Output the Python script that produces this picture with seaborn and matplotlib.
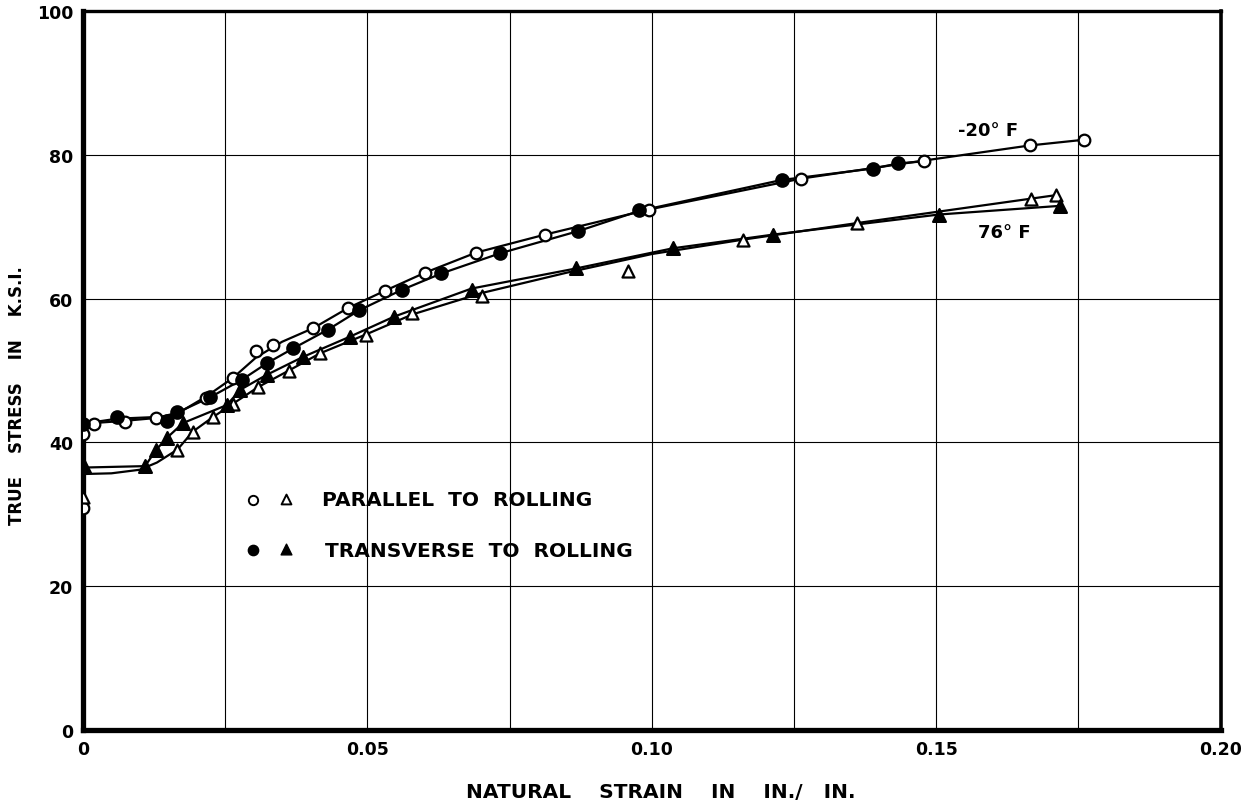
import matplotlib
matplotlib.use("Agg")
import matplotlib.pyplot as plt
import numpy as np
import pandas as pd
import seaborn as sns

# ---------------- data ----------------
# -20 F, parallel to rolling (open circles)
p20_x = [0.0, 0.0, 0.0020, 0.0073, 0.0129, 0.0217, 0.0264, 0.0304, 0.0334, 0.0405,
         0.0466, 0.0531, 0.0601, 0.0691, 0.0812, 0.0995, 0.1263, 0.1478, 0.1664, 0.1760]
p20_y = [30.9, 41.2, 42.6, 42.9, 43.4, 46.2, 49.0, 52.7, 53.6, 55.9,
         58.7, 61.1, 63.6, 66.4, 68.9, 72.3, 76.6, 79.1, 81.3, 82.1]
# -20 F, transverse to rolling (filled circles)
t20_x = [0.0, 0.0060, 0.0147, 0.0166, 0.0224, 0.0279, 0.0323, 0.0370, 0.0431, 0.0486,
         0.0560, 0.0630, 0.0733, 0.0871, 0.0978, 0.1228, 0.1389, 0.1433]
t20_y = [42.6, 43.6, 43.0, 44.2, 46.3, 48.7, 51.0, 53.1, 55.7, 58.4,
         61.2, 63.5, 66.4, 69.4, 72.3, 76.5, 78.0, 78.8]
# 76 F, parallel to rolling (open triangles)
p76_x = [0.0, 0.0166, 0.0193, 0.0228, 0.0264, 0.0308, 0.0362, 0.0417, 0.0497, 0.0579,
         0.0702, 0.0958, 0.1160, 0.1360, 0.1666, 0.1711]
p76_y = [32.4, 39.0, 41.5, 43.5, 45.4, 47.7, 50.0, 52.4, 55.0, 58.0,
         60.3, 63.8, 68.2, 70.5, 73.9, 74.4]
# 76 F, transverse to rolling (filled triangles)
t76_x = [0.0002, 0.0109, 0.0129, 0.0147, 0.0176, 0.0253, 0.0276, 0.0323, 0.0387, 0.0469,
         0.0547, 0.0683, 0.0867, 0.1037, 0.1213, 0.1505, 0.1717]
t76_y = [36.7, 36.7, 39.0, 40.6, 42.7, 45.2, 47.3, 49.4, 51.9, 54.7,
         57.5, 61.2, 64.2, 67.0, 68.9, 71.7, 72.9]

# faired curves drawn through the points
c_p20_x = [0.0, 0.0, 0.0020, 0.0073, 0.0129, 0.0170, 0.0217, 0.0264, 0.0304, 0.0350,
           0.0405, 0.0466, 0.0531, 0.0601, 0.0691, 0.0812, 0.0995, 0.1263, 0.1478, 0.1664, 0.1760]
c_p20_y = [0.0, 42.4, 42.7, 43.0, 43.4, 44.2, 46.4, 49.0, 51.8, 54.0,
           55.9, 58.7, 61.1, 63.6, 66.4, 68.9, 72.4, 76.7, 79.2, 81.3, 82.1]
c_t20_x = [0.0, 0.0, 0.0060, 0.0150, 0.0170, 0.0224, 0.0279, 0.0323, 0.0370, 0.0431,
           0.0486, 0.0560, 0.0630, 0.0733, 0.0871, 0.0978, 0.1228, 0.1389, 0.1433, 0.1478]
c_t20_y = [0.0, 42.6, 43.3, 43.6, 44.3, 46.3, 48.7, 51.0, 53.1, 55.7,
           58.4, 61.2, 63.5, 66.3, 69.4, 72.2, 76.5, 78.1, 78.8, 79.1]
c_p76_x = [0.0, 0.0, 0.0050, 0.0100, 0.0130, 0.0166, 0.0193, 0.0228, 0.0264, 0.0308,
           0.0362, 0.0417, 0.0497, 0.0579, 0.0702, 0.0850, 0.1000, 0.1160, 0.1360, 0.1666, 0.1711]
c_p76_y = [0.0, 35.6, 35.7, 36.2, 37.2, 39.0, 41.5, 43.5, 45.4, 47.7,
           50.0, 52.4, 55.0, 57.8, 60.8, 63.6, 66.2, 68.2, 70.5, 73.9, 74.4]
c_t76_x = [0.0, 0.0, 0.0109, 0.0129, 0.0147, 0.0176, 0.0253, 0.0276, 0.0323, 0.0387,
           0.0469, 0.0547, 0.0683, 0.0867, 0.1037, 0.1213, 0.1505, 0.1717]
c_t76_y = [0.0, 36.5, 36.7, 39.0, 40.6, 42.7, 45.2, 47.3, 49.4, 51.9,
           54.7, 57.5, 61.4, 64.2, 67.0, 68.9, 71.7, 72.9]

x_ticks = [0.0, 0.05, 0.10, 0.15, 0.20]
x_tick_labels = ["0", "0.05", "0.10", "0.15", "0.20"]
y_ticks = [0, 20, 40, 60, 80, 100]
y_tick_labels = ["0", "20", "40", "60", "80", "100"]

# ---------------- build tables ----------------
pts = pd.concat([
    pd.DataFrame({"x": p20_x, "y": p20_y, "s": "p20"}),
    pd.DataFrame({"x": t20_x, "y": t20_y, "s": "t20"}),
    pd.DataFrame({"x": p76_x, "y": p76_y, "s": "p76"}),
    pd.DataFrame({"x": t76_x, "y": t76_y, "s": "t76"}),
], ignore_index=True)
curves = pd.concat([
    pd.DataFrame({"x": c_p20_x, "y": c_p20_y, "c": "p20"}),
    pd.DataFrame({"x": c_t20_x, "y": c_t20_y, "c": "t20"}),
    pd.DataFrame({"x": c_p76_x, "y": c_p76_y, "c": "p76"}),
    pd.DataFrame({"x": c_t76_x, "y": c_t76_y, "c": "t76"}),
], ignore_index=True)

sns.set_theme(style="white")
plt.rcParams["font.family"] = ["DejaVu Sans"]
plt.rcParams["text.color"] = "black"
plt.rcParams["axes.labelcolor"] = "black"
plt.rcParams["xtick.color"] = "black"
plt.rcParams["ytick.color"] = "black"

fig = plt.figure(figsize=(12.52, 8.03), dpi=100)
ax = fig.add_axes([0.0663, 0.0897, 0.9087, 0.8953])

# grid
ax.set_xlim(0, 0.20)
ax.set_ylim(0, 100)
ax.set_xticks(x_ticks)
ax.set_xticklabels(x_tick_labels)
ax.set_xticks(np.arange(0.025, 0.2, 0.05), minor=True)
ax.set_yticks(y_ticks)
ax.set_yticklabels(y_tick_labels)
ax.grid(True, which="both", color="black", linewidth=0.8, zorder=0)
ax.set_axisbelow(True)
ax.tick_params(which="both", length=0, labelsize=12.5, pad=7, colors="black")
for lab in ax.get_xticklabels() + ax.get_yticklabels():
    lab.set_fontweight("bold")

# curves
for key in ["p20", "t20", "p76", "t76"]:
    sub = curves[curves["c"] == key]
    sns.lineplot(data=sub, x="x", y="y", sort=False, estimator=None, color="black",
                 linewidth=1.6, ax=ax, zorder=2, legend=False)

# markers
styles = {
    "p20": dict(marker="o", facecolor="white", s=70),
    "t20": dict(marker="o", facecolor="black", s=80),
    "p76": dict(marker="^", facecolor="white", s=75),
    "t76": dict(marker="^", facecolor="black", s=85),
}
for key, st in styles.items():
    sub = pts[pts["s"] == key]
    sns.scatterplot(data=sub, x="x", y="y", marker=st["marker"], s=st["s"],
                    facecolor=st["facecolor"], edgecolor="black", linewidth=1.6,
                    ax=ax, zorder=3, legend=False)

# spines
for side, lw in [("left", 3.8), ("bottom", 3.8), ("top", 2.4), ("right", 2.6)]:
    ax.spines[side].set_visible(True)
    ax.spines[side].set_color("black")
    ax.spines[side].set_linewidth(lw)

ax.set_xlabel("NATURAL    STRAIN    IN    IN./   IN.", fontsize=14.5, fontweight="bold", color="black")
ax.xaxis.set_label_coords(0.5075, -0.073)
ax.set_ylabel("TRUE    STRESS    IN    K.S.I.", fontsize=12, fontweight="bold", color="black")
ax.yaxis.set_label_coords(-0.050, 0.467)

# in-plot legend
ax.scatter([0.0299], [32.0], marker="o", s=45, facecolor="white", edgecolor="black", linewidth=1.4, zorder=4)
ax.scatter([0.0357], [32.1], marker="^", s=50, facecolor="white", edgecolor="black", linewidth=1.4, zorder=4)
ax.text(0.0421, 32.0, "PARALLEL  TO  ROLLING", fontsize=14.5, fontweight="bold", va="center", ha="left", color="black")
ax.scatter([0.0299], [25.0], marker="o", s=55, facecolor="black", edgecolor="black", zorder=4)
ax.scatter([0.0357], [25.2], marker="^", s=60, facecolor="black", edgecolor="black", zorder=4)
ax.text(0.0425, 25.0, "TRANSVERSE  TO  ROLLING", fontsize=14.5, fontweight="bold", va="center", ha="left", color="black")

# temperature labels
ax.text(0.1538, 83.4, "-20\u00b0 F", fontsize=13, fontweight="bold", va="center", ha="left", color="black")
ax.text(0.1573, 69.2, "76\u00b0 F", fontsize=13, fontweight="bold", va="center", ha="left", color="black")

fig.savefig("out.png", dpi=100, facecolor="white")
